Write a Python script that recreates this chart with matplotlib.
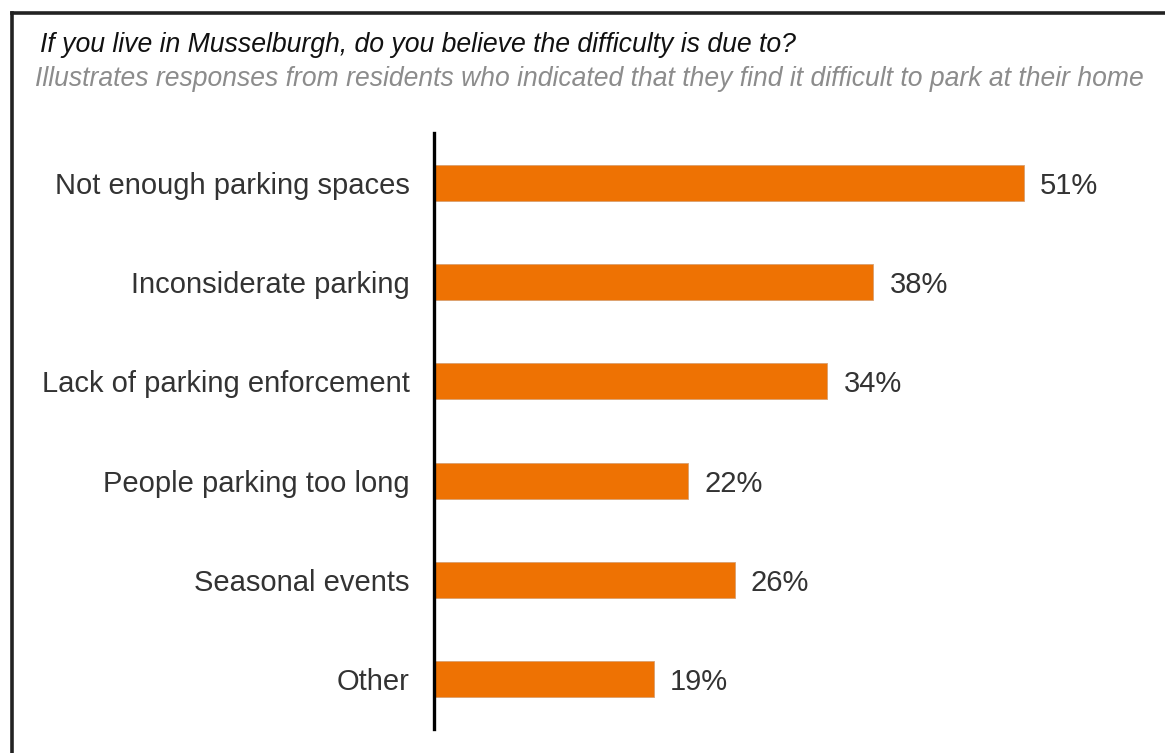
import matplotlib
matplotlib.use("Agg")
import matplotlib.pyplot as plt
from matplotlib.lines import Line2D

plt.rcParams['font.family'] = ['Liberation Sans', 'DejaVu Sans']

categories = ['Not enough parking spaces', 'Inconsiderate parking', 'Lack of parking enforcement',
              'People parking too long', 'Seasonal events', 'Other']
values = [51, 38, 34, 22, 26, 19]
value_labels = ['51%', '38%', '34%', '22%', '26%', '19%']

title = 'If you live in Musselburgh, do you believe the difficulty is due to?'
subtitle = 'Illustrates responses from residents who indicated that they find it difficult to park at their home'

W, H = 1165, 753
fig = plt.figure(figsize=(W / 100, H / 100), dpi=100)
fig.patch.set_facecolor('white')

# frame: top and left edges only
fig.add_artist(Line2D([12 / W, 1.0], [1 - 12.5 / H] * 2, color='#222222', lw=2.6, transform=fig.transFigure))
fig.add_artist(Line2D([12 / W] * 2, [1 - 12.5 / H, 0.0], color='#222222', lw=2.6, transform=fig.transFigure))

fig.text(40 / W, 1 - 45 / H, title, fontsize=19.2, style='italic', color='#111111', va='center', ha='left')
fig.text(35 / W, 1 - 79 / H, subtitle, fontsize=19.1, style='italic', color='#8c8c8c', va='center', ha='left')

ax = fig.add_axes([434 / W, 1 - 729 / H, (1151 - 434) / W, (729 - 133) / H])
y = list(range(len(categories)))
ax.barh(y, values, height=0.36, color='#ee7203', edgecolor='#d9a070', linewidth=0.6)
ax.set_ylim(len(categories) - 0.5, -0.5)
ax.set_xlim(0, 62)

for yi, v, lab in zip(y, values, value_labels):
    ax.text(v + 1.4, yi, lab, va='center_baseline', ha='left', fontsize=21, color='#333333')

ax.set_yticks(y)
ax.set_yticklabels(categories, fontsize=21, color='#333333')
ax.tick_params(axis='y', length=0, pad=17.3)
ax.set_xticks([])
for s in ['top', 'right', 'bottom']:
    ax.spines[s].set_visible(False)
ax.spines['left'].set_linewidth(2.4)
ax.spines['left'].set_color('black')

fig.savefig('out.png', dpi=100)
